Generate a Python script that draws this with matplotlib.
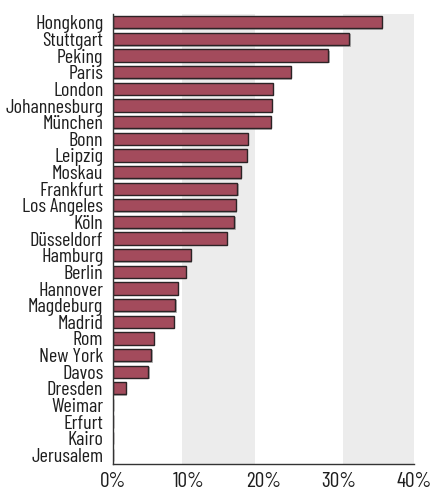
import matplotlib
matplotlib.use("Agg")
import matplotlib.pyplot as plt
import matplotlib.patheffects as pe

cities = ["Hongkong", "Stuttgart", "Peking", "Paris", "London", "Johannesburg",
          "München", "Bonn", "Leipzig", "Moskau", "Frankfurt", "Los Angeles",
          "Köln", "Düsseldorf", "Hamburg", "Berlin", "Hannover", "Magdeburg",
          "Madrid", "Rom", "New York", "Davos", "Dresden", "Weimar", "Erfurt",
          "Kairo", "Jerusalem"]
values = [35.7, 31.4, 28.6, 23.6, 21.2, 21.1, 21.0, 17.9, 17.8, 17.0, 16.5, 16.3,
          16.1, 15.1, 10.3, 9.7, 8.6, 8.3, 8.1, 5.4, 5.1, 4.7, 1.7, 0, 0, 0, 0]
x_ticks = [0, 10, 20, 30, 40]
x_tick_labels = ["0%", "10%", "20%", "30%", "40%"]
bands = [(9.2, 18.9), (30.5, 40)]

plt.rcParams['font.family'] = ['Barlow Condensed', 'Roboto Condensed', 'DejaVu Sans']

fig = plt.figure(figsize=(4.32, 4.92), dpi=100)
ax = fig.add_axes([0.2616, 0.0569, 0.6968, 0.9146])

for lo, hi in bands:
    ax.axvspan(lo, hi, color='#ececec', zorder=0, lw=0)

ypos = list(range(len(cities)))
bars = ax.barh(ypos, values, height=0.74, color='#a34b5c', edgecolor='#2b2325',
               linewidth=1.0, zorder=2)
for b in bars:
    if b.get_width() > 0:
        b.set_path_effects([pe.SimplePatchShadow(offset=(1.0, -1.0),
                                                 shadow_rgbFace='#9a9a9a', alpha=0.7),
                            pe.Normal()])

ax.set_ylim(len(cities) - 0.45, -0.5)
ax.set_xlim(0, 40)
ax.set_yticks(ypos)
ax.set_yticklabels(cities, fontsize=14.5, color='#1e1e1e')
ax.set_xticks(x_ticks)
ax.set_xticklabels(x_tick_labels, fontsize=15.5, color='#1e1e1e')
ax.tick_params(axis='y', length=0, pad=7)
ax.tick_params(axis='x', length=0, pad=6)

for s in ['top', 'right']:
    ax.spines[s].set_visible(False)
for s in ['left', 'bottom']:
    ax.spines[s].set_color('#333333')
    ax.spines[s].set_linewidth(1.0)
    ax.spines[s].set_zorder(3)

fig.savefig('out.png', dpi=100)
